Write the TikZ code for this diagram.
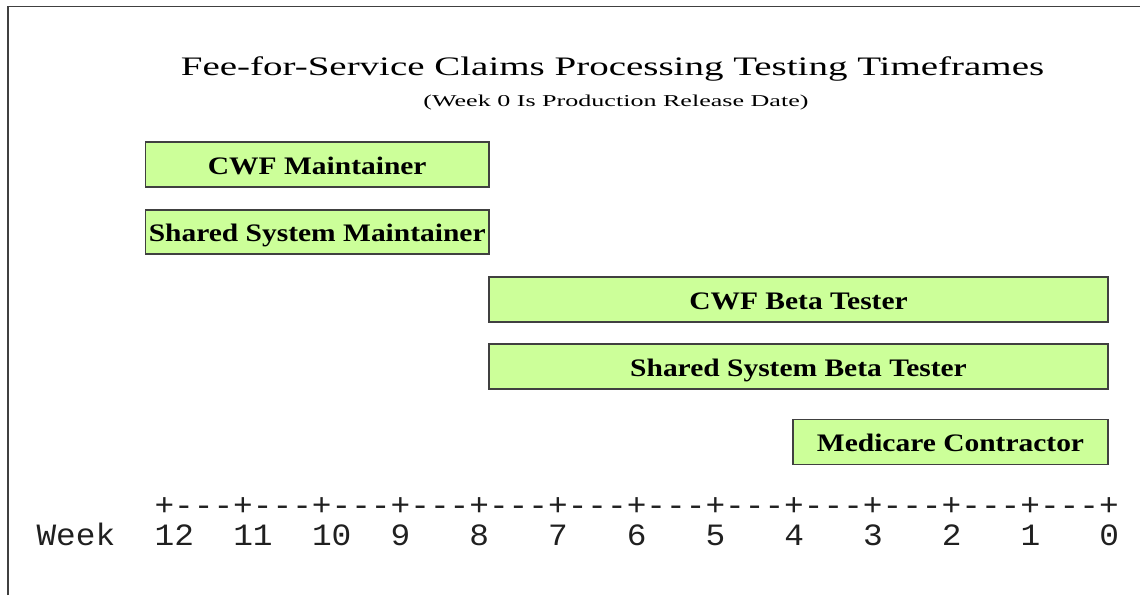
\documentclass[tikz,border=0pt]{standalone}
\usepackage{fontspec}
\setmainfont{Liberation Serif}
\setmonofont[FakeStretch=1.058]{Liberation Mono}
\newfontfamily\titlefont[FakeStretch=1.46]{Liberation Serif}
\newfontfamily\subfont[FakeStretch=1.57]{Liberation Serif}
\newfontfamily\boxfont[FakeStretch=1.17]{Liberation Serif}
\definecolor{boxgreen}{HTML}{CCFF99}
\definecolor{edgegray}{HTML}{404040}
\definecolor{axisgray}{HTML}{202020}
\begin{document}
\begin{tikzpicture}[x=1pt,y=-1pt,
  gbox/.style={draw=edgegray, line width=1.4pt, fill=boxgreen, inner sep=0pt},
  boxlabel/.style={font=\boxfont\bfseries\fontsize{25.2pt}{28pt}\selectfont, inner sep=0pt, text height=16.7pt, text depth=0pt},
  frameline/.style={draw=edgegray, line width=1.5pt},
  axistext/.style={font=\ttfamily\fontsize{31pt}{34pt}\selectfont, text=axisgray, inner sep=0pt, anchor=base west},
  titletext/.style={font=\titlefont\fontsize{26.7pt}{30pt}\selectfont, inner sep=0pt, anchor=base},
  subtext/.style={font=\subfont\fontsize{16.6pt}{19pt}\selectfont, inner sep=0pt, anchor=base}]
\useasboundingbox (0,0) rectangle (1140,595);
\fill[white] (0,0) rectangle (1140,595);
% frame
\draw[frameline] (8,595) -- (8,6.5) -- (1140,6.5);
% titles
\node[titletext] (title) at (612.5,75) {Fee-for-Service Claims Processing Testing Timeframes};
\node[subtext] (subtitle) at (616,106) {(Week 0 Is Production Release Date)};
% boxes
\node[gbox, minimum width=343.5pt, minimum height=45pt] (cwfm) at (317.25,164.5) {};
\node[boxlabel] at ([yshift=-1.5pt]cwfm.center) {CWF Maintainer};
\node[gbox, minimum width=343.5pt, minimum height=44pt] (ssm) at (317.25,232) {};
\node[boxlabel] at ([yshift=-1.5pt]ssm.center) {Shared System Maintainer};
\node[gbox, minimum width=619pt, minimum height=45pt] (cwfb) at (798.5,299.5) {};
\node[boxlabel] at ([yshift=-1.5pt]cwfb.center) {CWF Beta Tester};
\node[gbox, minimum width=619pt, minimum height=45pt] (ssb) at (798.5,366.5) {};
\node[boxlabel] at ([yshift=-1.5pt]ssb.center) {Shared System Beta Tester};
\node[gbox, minimum width=315pt, minimum height=45pt] (mc) at (950.5,441.7) {};
\node[boxlabel] at ([yshift=-1.5pt]mc.center) {Medicare Contractor};
% axis
\node[axistext] (ticks) at (154.3,515) {+---+---+---+---+---+---+---+---+---+---+---+---+};
\node[axistext] (weeks) at (36.3,545) {Week~~12~~11~~10~~9~~~8~~~7~~~6~~~5~~~4~~~3~~~2~~~1~~~0};
\end{tikzpicture}
\end{document}
